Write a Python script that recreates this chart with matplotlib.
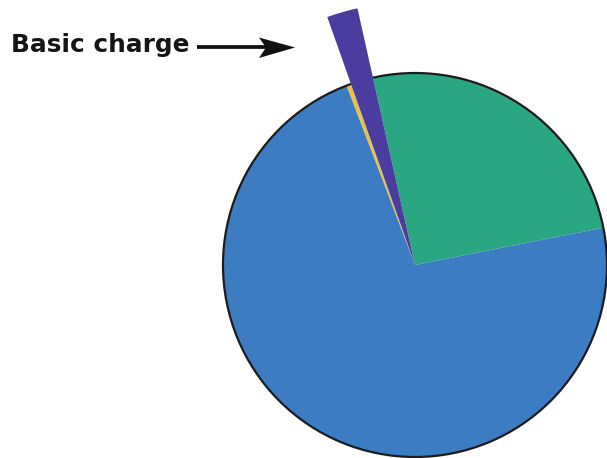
import matplotlib
matplotlib.use("Agg")
import matplotlib.pyplot as plt
from matplotlib.patches import Circle, Polygon

# Data (shares of the pie)
categories = ["Other charges", "Basic charge", "Minor charge", "Energy charge"]
shares = [25.4, 1.9, 0.4, 72.3]
colors = ["#2ba682", "#4a3d9f", "#e9c24a", "#3b7cc3"]
label_text = "Basic charge"

W, H = 607, 458
CX, CY, R = 415, 265, 192


def px(x, y):
    return (x - CX) / R, (CY - y) / R


fig = plt.figure(figsize=(W / 100, H / 100), dpi=100)
ax = fig.add_axes([0, 0, 1, 1])
wedges, _ = ax.pie(shares, colors=colors, startangle=11.2, counterclock=True,
                   radius=1.0, wedgeprops=dict(linewidth=0))
# outer outline of the pie
ax.add_patch(Circle((0, 0), 1.0, fill=False, edgecolor="#1c1c1c", lw=1.6, zorder=3))
# the highlighted slice sticks out of the pie
wedges[1].set_radius(1.37)
wedges[1].set_zorder(4)

x0, y0 = px(11, 45)
ax.text(x0, y0, label_text, fontsize=17.8, fontweight="bold", family="DejaVu Sans",
        ha="left", va="center", color="#151515")
# arrow: shaft + swept head
sx0, sy = px(197, 47.5)
sx1, _ = px(268, 47.5)
ax.plot([sx0, sx1], [sy, sy], color="#111111", lw=2.7, solid_capstyle="butt")
head = [px(295, 47.5), px(259, 37.5), px(266, 47.5), px(259, 58)]
ax.add_patch(Polygon(head, closed=True, facecolor="#111111", edgecolor="none"))

ax.set_xlim((0 - CX) / R, (W - CX) / R)
ax.set_ylim((CY - H) / R, CY / R)
ax.set_aspect("auto")
ax.axis("off")
fig.savefig("out.png", dpi=100)
